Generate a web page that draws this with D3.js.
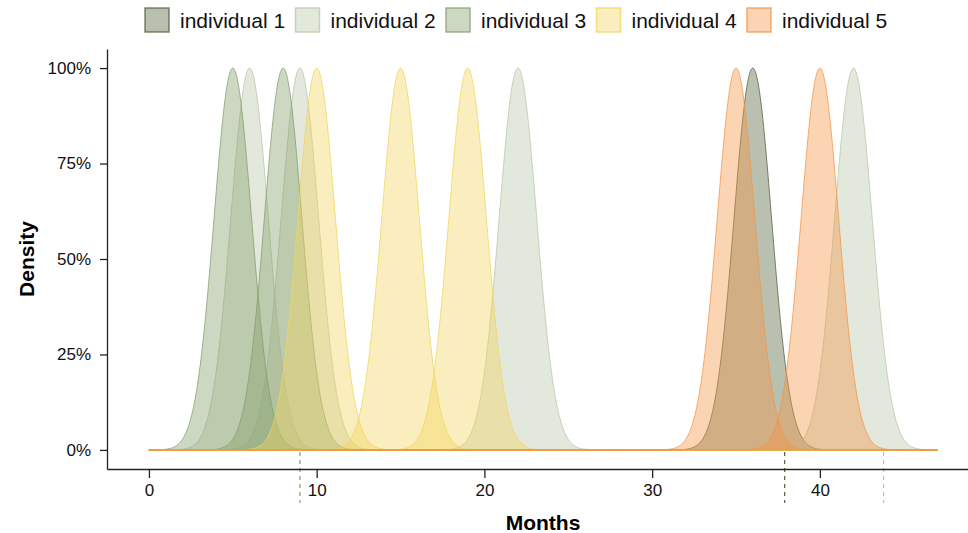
<!DOCTYPE html>
<html>
<head>
<meta charset="utf-8">
<script src="https://cdn.jsdelivr.net/npm/d3@7"></script>
<style>
  body { margin: 0; background: #fff; }
  text { font-family: "Liberation Sans", Arial, sans-serif; }
</style>
</head>
<body>
<div id="chart"></div>
<script>
// series names + colours
var individuals = ["individual 1", "individual 2", "individual 3", "individual 4", "individual 5"];
var colours = ["#506139", "#b9c5a7", "#829d69", "#f2d45c", "#f59343"];

// months where each individual has an event (one density peak each)
var events1 = [36];
var events2 = [6, 9, 22, 42];
var events3 = [5, 8];
var events4 = [10, 15, 19];
var events5 = [35, 40];
var events = [events1, events2, events3, events4, events5];

// dashed markers below the axis: month + which individual
var markerMonths = [37.9, 43.8, 9];
var markerIndividual = [0, 1, 2];

var xTicks = [0, 10, 20, 30, 40];
var yTicks = [0, 0.25, 0.5, 0.75, 1];
var monthRange = [0, 47];
var bandwidth = 1.12;

const width = 968, height = 533;

var svg = d3.select("#chart").append("svg")
  .attr("width", width)
  .attr("height", height);

var x = d3.scaleLinear().domain([-2.5, 48.83]).range([107, 968]);
var y = d3.scaleLinear().domain([-0.05, 1.05]).range([469, 49]);

// kernel density around one event, scaled to a max of 1
function density(m) {
  var grid = d3.range(monthRange[0], monthRange[1] + 0.001, 0.05);
  return grid.map(function(t) {
    var z = (t - m) / bandwidth;
    return [t, Math.exp(-0.5 * z * z)];
  });
}

var area = d3.area()
  .x(function(d) { return x(d[0]); })
  .y0(y(0))
  .y1(function(d) { return y(d[1]); })
  .curve(d3.curveLinear);

events.forEach(function(ev, i) {
  var g = svg.append("g");
  ev.forEach(function(m) {
    g.append("path")
      .datum(density(m))
      .attr("d", area)
      .attr("fill", colours[i])
      .attr("fill-opacity", 0.4)
      .attr("stroke", colours[i])
      .attr("stroke-opacity", 0.75)
      .attr("stroke-width", 1);
  });
});

// dashed markers
markerMonths.forEach(function(m, i) {
  svg.append("line")
    .attr("x1", x(m)).attr("x2", x(m))
    .attr("y1", y(0) + 2).attr("y2", 503)
    .attr("stroke", colours[markerIndividual[i]])
    .attr("stroke-width", 1.2)
    .attr("stroke-dasharray", "4,4");
});

// axes
var xAxis = svg.append("g")
  .attr("transform", "translate(0," + 469 + ")")
  .call(d3.axisBottom(x).tickValues(xTicks).tickSizeInner(9).tickSizeOuter(0).tickPadding(6));
var yAxis = svg.append("g")
  .attr("transform", "translate(107,0)")
  .call(d3.axisLeft(y).tickValues(yTicks).tickFormat(d3.format(".0%")).tickSizeInner(7).tickSizeOuter(0).tickPadding(9));

[xAxis, yAxis].forEach(function(a) {
  a.selectAll("path, line").attr("stroke", "#222").attr("stroke-width", 1.3);
  a.selectAll("text").attr("fill", "#111").style("font-size", "17px")
    .style("font-family", "'Liberation Sans', Arial, sans-serif");
});

svg.append("text")
  .attr("x", 543).attr("y", 530)
  .attr("text-anchor", "middle")
  .style("font-size", "21px").style("font-weight", "bold")
  .text("Months");

svg.append("text")
  .attr("transform", "translate(34,259) rotate(-90)")
  .attr("text-anchor", "middle")
  .style("font-size", "21px").style("font-weight", "bold")
  .text("Density");

// legend
var legend = svg.append("g");
individuals.forEach(function(name, i) {
  var lx = 145 + i * 150.5;
  legend.append("rect")
    .attr("x", lx).attr("y", 8)
    .attr("width", 24).attr("height", 24)
    .attr("fill", colours[i]).attr("fill-opacity", 0.4)
    .attr("stroke", colours[i]).attr("stroke-opacity", 0.75)
    .attr("stroke-width", 1.5);
  legend.append("text")
    .attr("x", lx + 35).attr("y", 27.5)
    .style("font-size", "21px")
    .attr("fill", "#111")
    .text(name);
});
</script>
</body>
</html>
